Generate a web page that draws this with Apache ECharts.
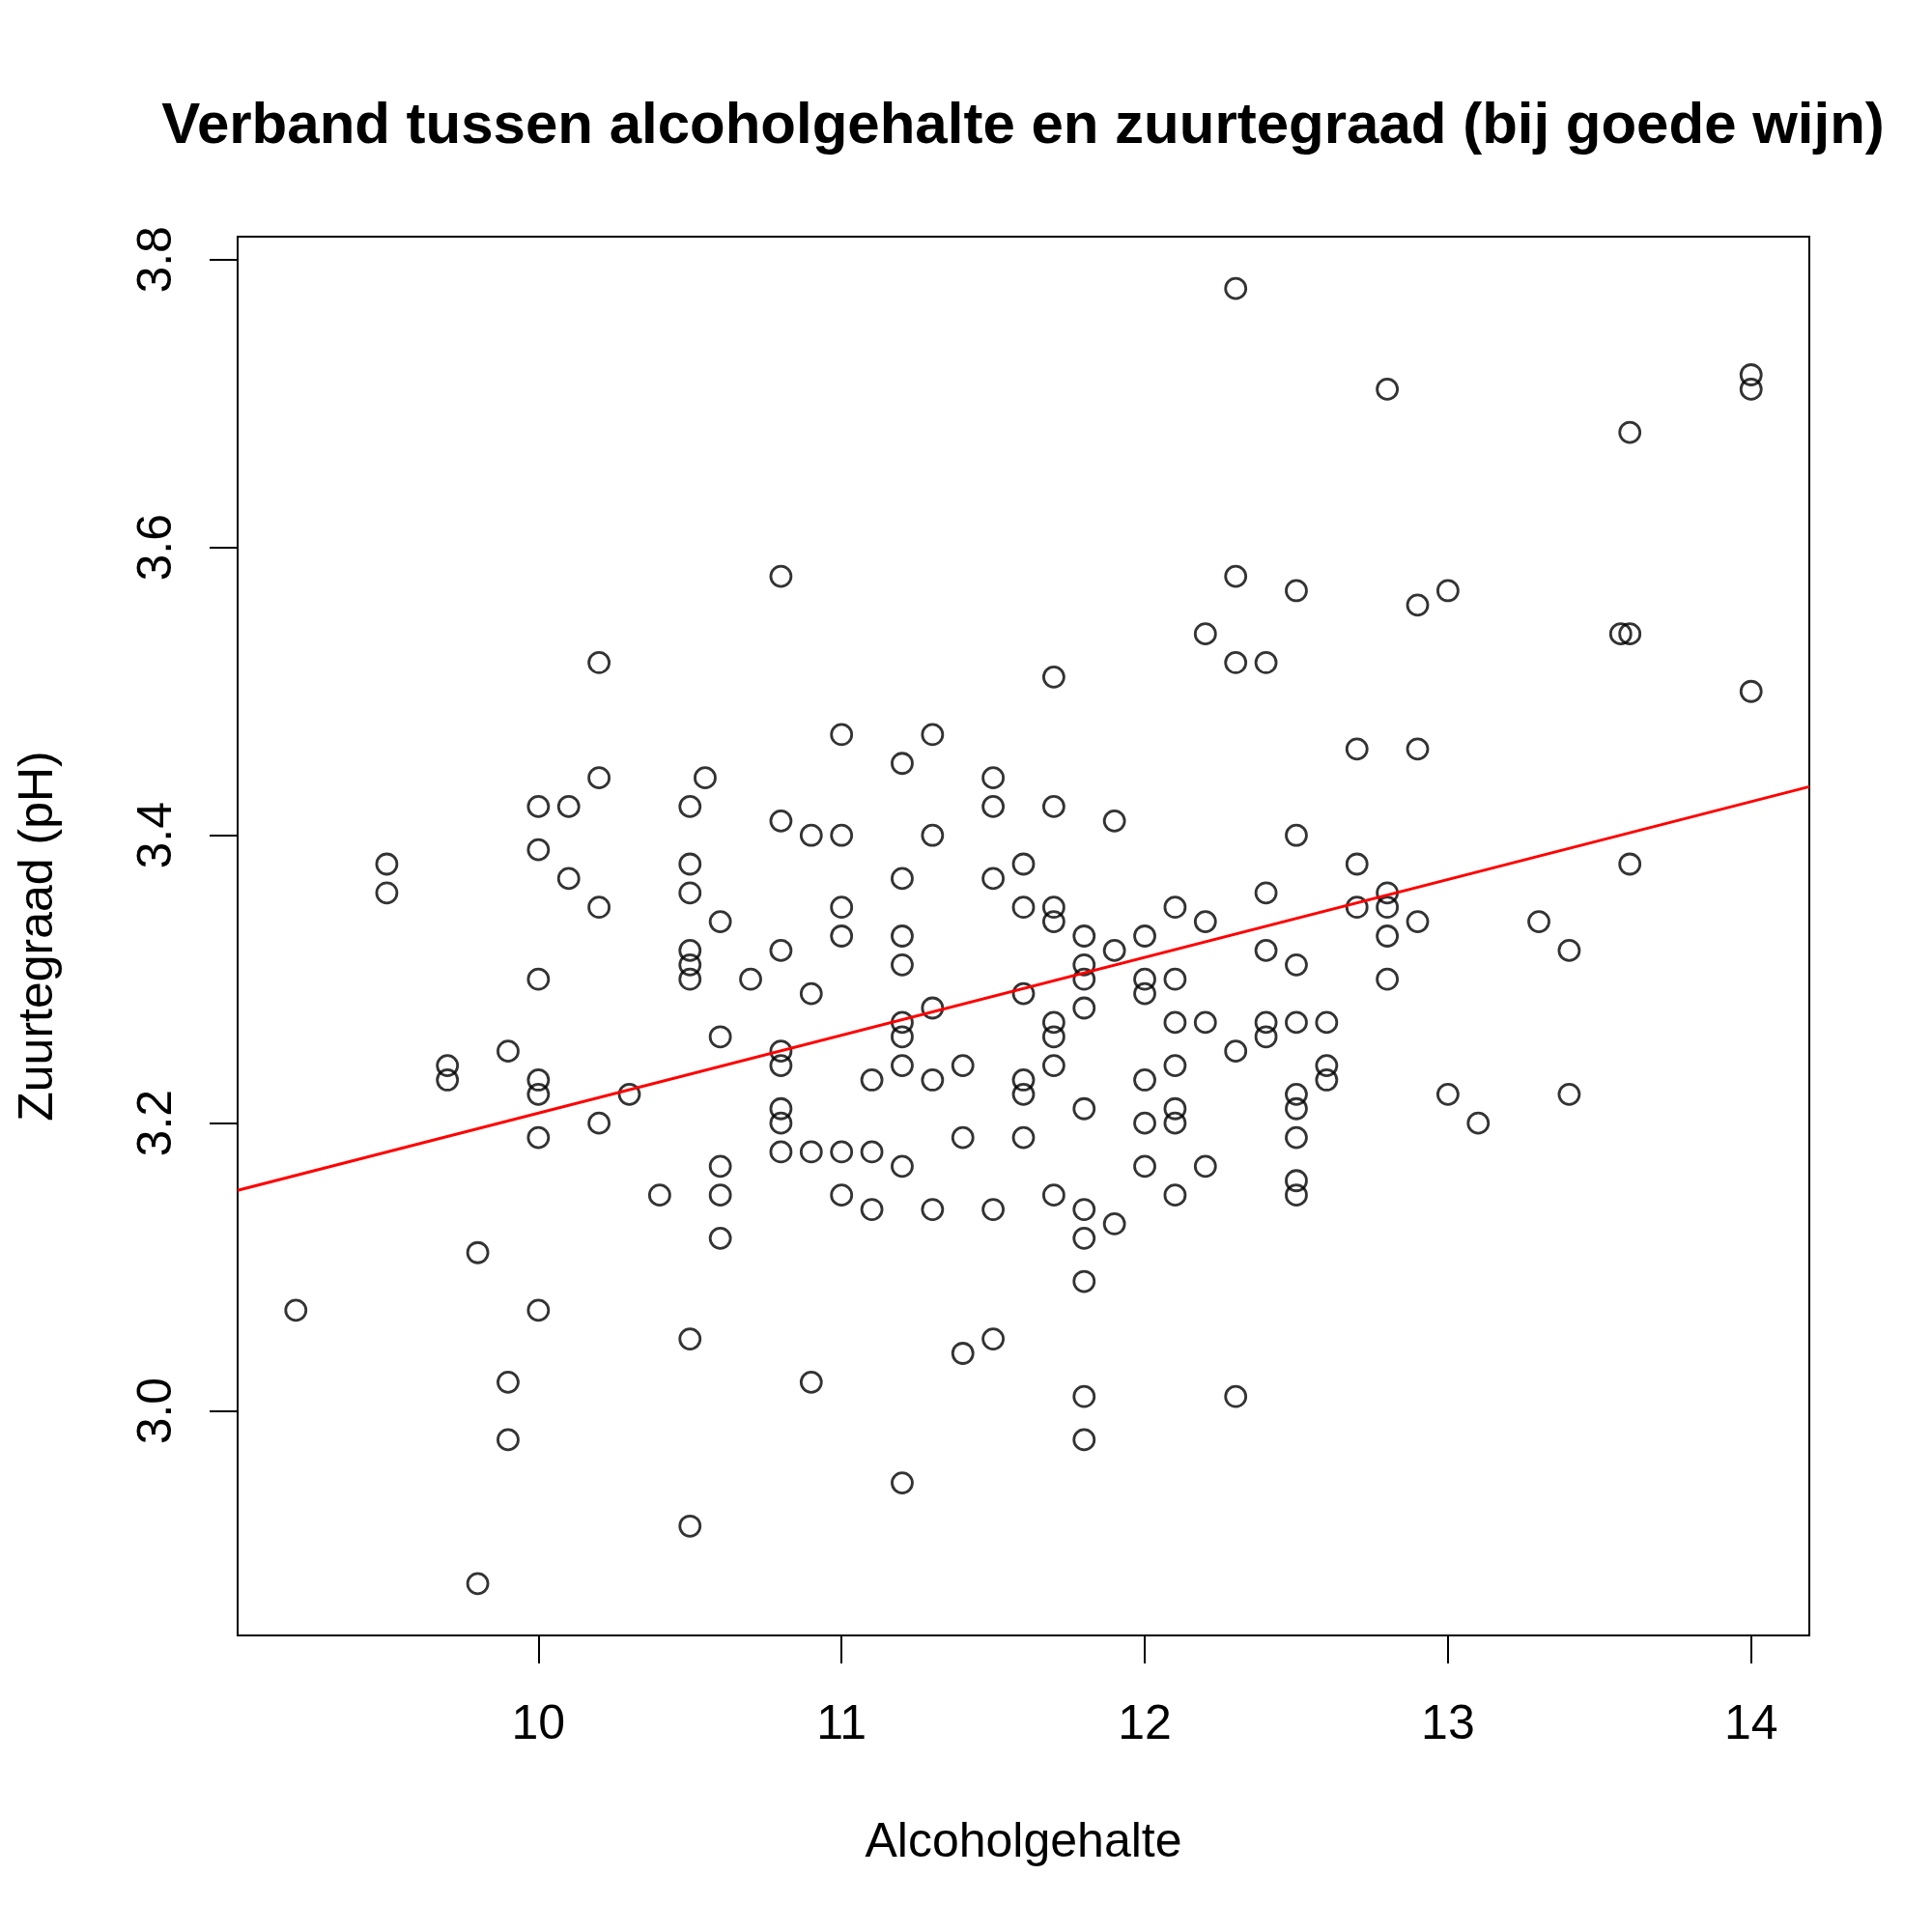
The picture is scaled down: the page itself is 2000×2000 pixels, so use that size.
<!DOCTYPE html>
<html><head><meta charset="utf-8">
<script src="https://cdn.jsdelivr.net/npm/echarts@6/dist/echarts.min.js"></script>
<style>html,body{margin:0;padding:0;background:#fff}#chart{width:2000px;height:2000px}</style>
</head><body><div id="chart"></div>
<script>
const titleText = 'Verband tussen alcoholgehalte en zuurtegraad (bij goede wijn)';
const xTitle = 'Alcoholgehalte';
const yTitle = 'Zuurtegraad (pH)';
const xTicks = [10, 11, 12, 13, 14];
const yTicks = [3.0, 3.2, 3.4, 3.6, 3.8];

const alcohol = [
  9.2,
  9.5, 9.5,
  9.7, 9.7,
  9.8, 9.8,
  9.9, 9.9, 9.9,
  10.0, 10.0, 10.0, 10.0, 10.0, 10.0, 10.0,
  10.1, 10.1,
  10.2, 10.2, 10.2, 10.2,
  10.3,
  10.4,
  10.5, 10.5, 10.5, 10.5, 10.5, 10.5, 10.5, 10.5,
  10.55,
  10.6, 10.6, 10.6, 10.6, 10.6,
  10.7,
  10.8, 10.8, 10.8, 10.8, 10.8, 10.8, 10.8, 10.8,
  10.9, 10.9, 10.9, 10.9,
  11.0, 11.0, 11.0, 11.0, 11.0, 11.0,
  11.1, 11.1, 11.1,
  11.2, 11.2, 11.2, 11.2, 11.2, 11.2, 11.2, 11.2, 11.2,
  11.3, 11.3, 11.3, 11.3, 11.3,
  11.4, 11.4, 11.4,
  11.5, 11.5, 11.5, 11.5, 11.5,
  11.6, 11.6, 11.6, 11.6, 11.6, 11.6,
  11.7, 11.7, 11.7, 11.7, 11.7, 11.7, 11.7, 11.7,
  11.8, 11.8, 11.8, 11.8, 11.8, 11.8, 11.8, 11.8, 11.8, 11.8,
  11.9, 11.9, 11.9,
  12.0, 12.0, 12.0, 12.0, 12.0, 12.0,
  12.1, 12.1, 12.1, 12.1, 12.1, 12.1, 12.1,
  12.2, 12.2, 12.2, 12.2,
  12.3, 12.3, 12.3, 12.3, 12.3,
  12.4, 12.4, 12.4, 12.4, 12.4,
  12.5, 12.5, 12.5, 12.5, 12.5, 12.5, 12.5, 12.5, 12.5,
  12.6, 12.6, 12.6,
  12.7, 12.7, 12.7,
  12.8, 12.8, 12.8, 12.8, 12.8,
  12.9, 12.9, 12.9,
  13.0, 13.0,
  13.1,
  13.3,
  13.4, 13.4,
  13.57,
  13.6, 13.6, 13.6,
  14.0, 14.0, 14.0
];

const ph = [
  3.07,
  3.38, 3.36,
  3.24, 3.23,
  3.11, 2.88,
  3.25, 3.02, 2.98,
  3.42, 3.39, 3.30, 3.23, 3.22, 3.19, 3.07,
  3.42, 3.37,
  3.52, 3.44, 3.35, 3.20,
  3.22,
  3.15,
  3.42, 3.38, 3.36, 3.32, 3.31, 3.30, 3.05, 2.92,
  3.44,
  3.34, 3.26, 3.17, 3.15, 3.12,
  3.30,
  3.58, 3.41, 3.32, 3.25, 3.24, 3.21, 3.20, 3.18,
  3.40, 3.29, 3.18, 3.02,
  3.47, 3.40, 3.35, 3.33, 3.18, 3.15,
  3.23, 3.18, 3.14,
  3.45, 3.37, 3.33, 3.31, 3.27, 3.26, 3.24, 3.17, 2.95,
  3.47, 3.40, 3.28, 3.23, 3.14,
  3.24, 3.19, 3.04,
  3.44, 3.42, 3.37, 3.14, 3.05,
  3.38, 3.35, 3.29, 3.23, 3.22, 3.19,
  3.51, 3.42, 3.35, 3.34, 3.27, 3.26, 3.24, 3.15,
  3.33, 3.31, 3.30, 3.28, 3.21, 3.14, 3.12, 3.09, 3.01, 2.98,
  3.41, 3.32, 3.13,
  3.33, 3.30, 3.29, 3.23, 3.20, 3.17,
  3.35, 3.30, 3.27, 3.24, 3.21, 3.20, 3.15,
  3.54, 3.34, 3.27, 3.17,
  3.78, 3.58, 3.52, 3.25, 3.01,
  3.52, 3.36, 3.32, 3.27, 3.26,
  3.57, 3.40, 3.31, 3.27, 3.22, 3.21, 3.19, 3.16, 3.15,
  3.27, 3.24, 3.23,
  3.46, 3.38, 3.35,
  3.71, 3.36, 3.35, 3.33, 3.30,
  3.56, 3.46, 3.34,
  3.57, 3.22,
  3.20,
  3.34,
  3.32, 3.22,
  3.54,
  3.68, 3.54, 3.38,
  3.72, 3.71, 3.50
];

// regression line (pH = a + b * alcohol)
const fitIntercept = 2.666;
const fitSlope = 0.0541;

// R-style axis limits: data range extended by 4% on each side
function rLimits(arr) {
  const lo = Math.min(...arr), hi = Math.max(...arr), pad = (hi - lo) * 0.04;
  return [lo - pad, hi + pad];
}
const [xMin, xMax] = rLimits(alcohol);
const [yMin, yMax] = rLimits(ph);

const points = alcohol.map((a, i) => [a, ph[i]]);
const fitLine = [[xMin, fitIntercept + fitSlope * xMin], [xMax, fitIntercept + fitSlope * xMax]];

const FONT = '"Liberation Sans", Arial, Helvetica, sans-serif';
const chart = echarts.init(document.getElementById('chart'), null, { renderer: 'canvas' });
chart.setOption({
  animation: false,
  backgroundColor: '#ffffff',
  title: {
    text: titleText,
    left: 1054,
    top: 96,
    textAlign: 'center',
    textStyle: { fontFamily: FONT, fontSize: 60, fontWeight: 'bold', color: '#000' }
  },
  grid: {
    left: 246, top: 245, width: 1627, height: 1448,
    containLabel: false, outerBoundsMode: 'none',
    show: true, borderColor: '#000', borderWidth: 2, backgroundColor: 'transparent'
  },
  xAxis: {
    type: 'value', min: xMin, max: xMax,
    name: xTitle, nameLocation: 'middle', nameGap: 190,
    nameTextStyle: { fontFamily: FONT, fontSize: 50, color: '#000' },
    axisLine: { show: false },
    splitLine: { show: false },
    axisTick: { show: true, customValues: xTicks, length: 29, lineStyle: { color: '#000', width: 2 } },
    axisLabel: { customValues: xTicks, margin: 68, fontFamily: FONT, fontSize: 50, color: '#000',
      formatter: v => String(v) }
  },
  yAxis: {
    type: 'value', min: yMin, max: yMax,
    name: yTitle, nameLocation: 'middle', nameGap: 181, nameRotate: 90,
    nameTextStyle: { fontFamily: FONT, fontSize: 50, color: '#000' },
    axisLine: { show: false },
    splitLine: { show: false },
    axisTick: { show: true, customValues: yTicks, length: 29, lineStyle: { color: '#000', width: 2 } },
    axisLabel: { customValues: yTicks, rotate: 90, margin: 58, fontFamily: FONT, fontSize: 50, color: '#000',
      formatter: v => v.toFixed(1) }
  },
  series: [
    {
      type: 'scatter',
      data: points,
      symbol: 'circle',
      symbolSize: 21,
      itemStyle: { color: 'rgba(0,0,0,0)', borderColor: '#000', borderWidth: 2.8 },
      emphasis: { disabled: true },
      z: 2
    },
    {
      type: 'line',
      data: fitLine,
      symbol: 'none',
      lineStyle: { color: '#ff0000', width: 3 },
      emphasis: { disabled: true },
      clip: true,
      z: 3
    }
  ]
});
</script>
</body></html>
